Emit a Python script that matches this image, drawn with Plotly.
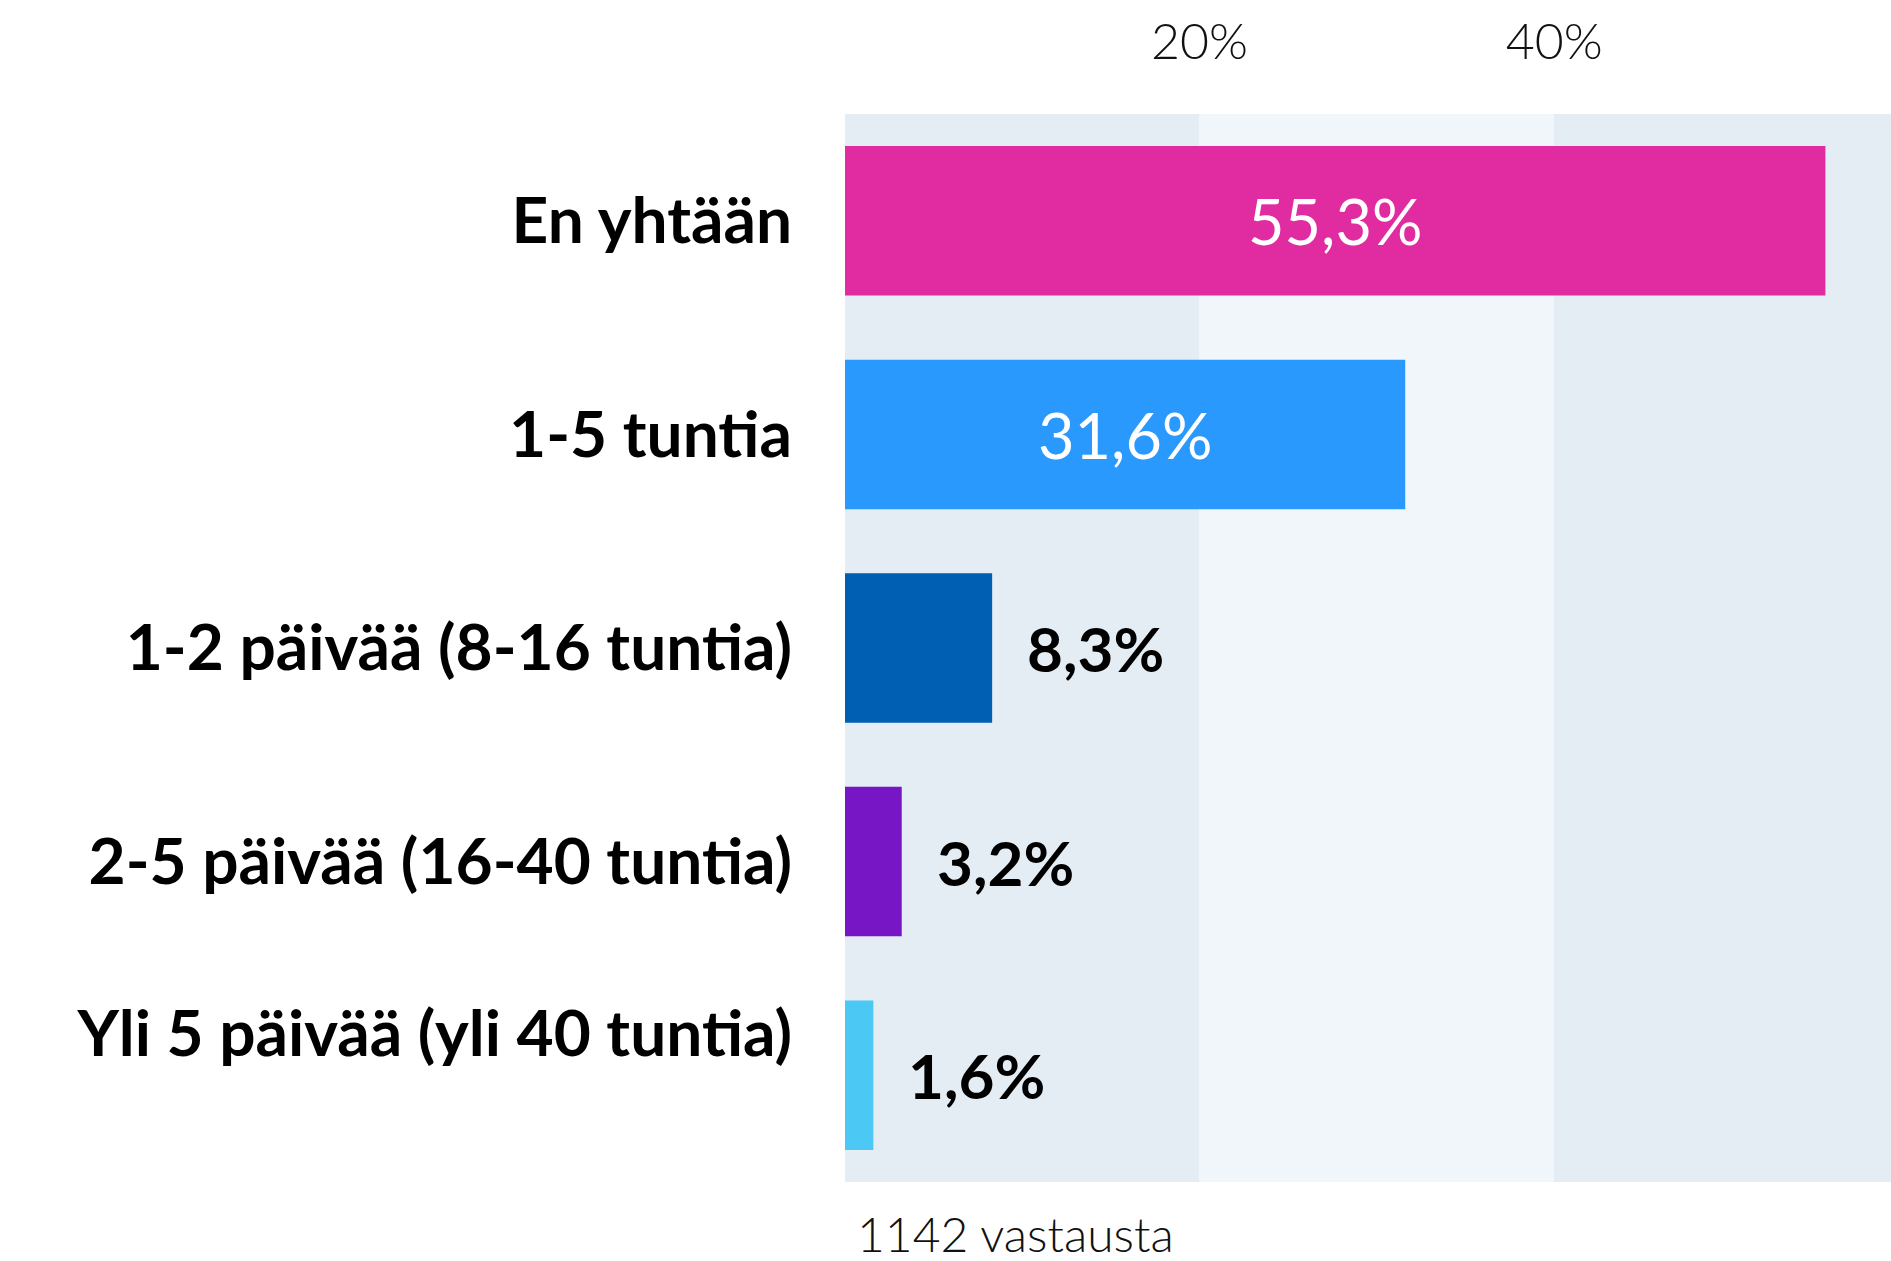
import plotly.graph_objects as go

categories = ["En yhtään", "1-5 tuntia", "1-2 päivää (8-16 tuntia)",
              "2-5 päivää (16-40 tuntia)", "Yli 5 päivää (yli 40 tuntia)"]
tick_text = ["En yhtään", "1-5 tuntia", "1-2 päivää (8-16 tuntia)",
             "2-5 päivää (16-40 tuntia)", "Yli 5 päivää (yli 40 tuntia)<br> "]
values = [55.3, 31.6, 8.3, 3.2, 1.6]
value_labels = ["55,3%", "31,6%", "8,3%", "3,2%", "1,6%"]
bar_colors = ["#e02ca0", "#2999fe", "#005eb3", "#7716c4", "#4bc8f3"]
x_ticks = [20, 40]
x_tick_labels = ["20%", "40%"]
band_edges = [0, 20, 40, 60]
band_colors = ["#e4ecf4", "#f1f6fa", "#e4ecf4"]
responses_note = "1142 vastausta"

FONT = "Lato, 'Open Sans', sans-serif"

fig = go.Figure()
fig.add_trace(go.Bar(
    x=values, y=categories, orientation="h",
    marker=dict(color=bar_colors, line=dict(width=0)),
    hoverinfo="skip",
))

shapes = []
for i in range(len(band_colors)):
    shapes.append(dict(type="rect", xref="x", yref="paper",
                       x0=band_edges[i], x1=band_edges[i + 1], y0=0, y1=1,
                       fillcolor=band_colors[i], line=dict(width=0), layer="below"))

annotations = []
for v, lab, cat in zip(values, value_labels, categories):
    if v >= 20:
        annotations.append(dict(x=v / 2, y=cat, xref="x", yref="y", text=lab,
                                showarrow=False, xanchor="center", yanchor="middle",
                                font=dict(family=FONT, size=63, color="white", weight=400)))
    else:
        annotations.append(dict(x=v, y=cat, xref="x", yref="y", text=lab,
                                showarrow=False, xanchor="left", yanchor="middle",
                                xshift=33,
                                font=dict(family=FONT, size=62, color="black", weight=700)))

annotations.append(dict(x=0, y=0, xref="paper", yref="paper", text=responses_note,
                        showarrow=False, xanchor="left", yanchor="top",
                        xshift=10, yshift=-21,
                        font=dict(family=FONT, size=48, color="#111111", weight=300)))

fig.update_layout(
    width=1891, height=1261,
    margin=dict(l=845, r=0, t=114, b=79),
    paper_bgcolor="white", plot_bgcolor="white",
    showlegend=False,
    bargap=0.3,
    shapes=shapes,
    annotations=annotations,
    font=dict(family=FONT, color="black"),
    xaxis=dict(range=[0, 59], side="top", tickvals=x_ticks, ticktext=x_tick_labels,
               showgrid=False, zeroline=False, showline=False, ticks="",
               ticklabelstandoff=44,
               tickfont=dict(family=FONT, size=50, color="#111111", weight=300),
               fixedrange=True),
    yaxis=dict(categoryorder="array", categoryarray=categories,
               tickvals=categories, ticktext=tick_text,
               autorange="reversed", showgrid=False, zeroline=False, showline=False,
               ticks="", ticklabelstandoff=52,
               tickfont=dict(family=FONT, size=64, color="black", weight=700),
               fixedrange=True),
)

fig.write_html("out.html",
               config={"displayModeBar": False},
               post_script="document.body.style.margin='0';document.body.style.overflow='hidden';")
